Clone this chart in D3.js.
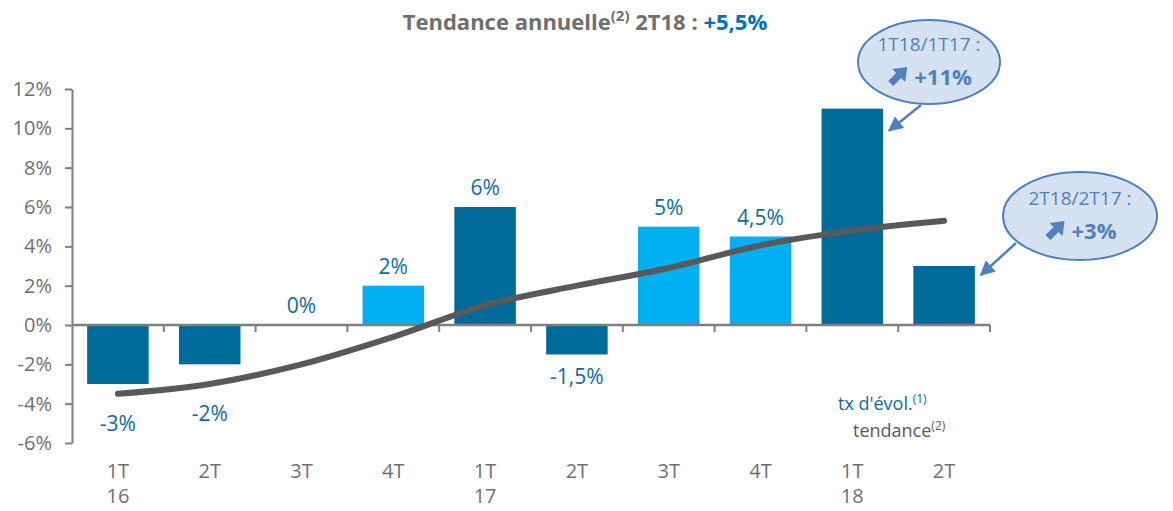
<!DOCTYPE html>
<html>
<head>
<meta charset="utf-8">
<script src="https://cdn.jsdelivr.net/npm/d3@7"></script>
<style>
  body { margin: 0; background: #fff; }
  text { font-family: "Open Sans", "Noto Sans", sans-serif; }
</style>
</head>
<body>
<div id="chart"></div>
<script>
// quarters (two-line labels) and values
var quarters = ["1T", "2T", "3T", "4T", "1T", "2T", "3T", "4T", "1T", "2T"];
var years    = ["16", "", "", "", "17", "", "", "", "18", ""];
var evolution = [-3, -2, 0, 2, 6, -1.5, 5, 4.5, 11, 3];      // tx d'évol. (bars)
var evoLabels = ["-3%", "-2%", "0%", "2%", "6%", "-1,5%", "5%", "4,5%", null, null];
var highlight = [false, false, false, true, false, false, true, true, false, false];
var tendance  = [-3.5, -3, -2, -0.6, 1, 2, 2.9, 4.05, 4.8, 5.3]; // tendance (line)
var yTicks = [-6, -4, -2, 0, 2, 4, 6, 8, 10, 12];

var W = 1173, H = 511;
var margin = {top: 89, right: 183, bottom: 68, left: 72};
var width = W - margin.left - margin.right,
    height = H - margin.top - margin.bottom;

var svg = d3.select("#chart").append("svg")
    .attr("width", W).attr("height", H);

var g = svg.append("g")
    .attr("transform", "translate(" + margin.left + "," + margin.top + ")");

var idx = d3.range(quarters.length);

var x = d3.scaleBand().domain(idx).range([0, width]).paddingInner(0.33).paddingOuter(0.165);
var y = d3.scaleLinear().domain([-6, 12]).range([height, 0]);

var dark = "#006a9b", light = "#00b0f0", grey = "#7f7f7f", labelBlue = "#0b6ca0";

// title
svg.append("text")
    .attr("x", 585).attr("y", 30)
    .attr("text-anchor", "middle")
    .style("font-size", "22px").style("font-weight", "bold").style("fill", "#6f6f6f")
    .call(function(t) {
      t.append("tspan").text("Tendance annuelle");
      t.append("tspan").attr("dy", -9).style("font-size", "15px").text("(2)");
      t.append("tspan").attr("dy", 9).text(" 2T18 : ");
      t.append("tspan").style("fill", "#0070c0").text("+5,5%");
    });

// bars
g.selectAll(".bar").data(idx).enter().append("rect")
    .attr("x", function(i) { return x(i); })
    .attr("width", x.bandwidth())
    .attr("y", function(i) { return y(Math.max(0, evolution[i])); })
    .attr("height", function(i) { return Math.abs(y(evolution[i]) - y(0)); })
    .attr("fill", function(i) { return highlight[i] ? light : dark; });

// y axis
var yAxis = g.append("g")
    .call(d3.axisLeft(y).tickValues(yTicks).tickSize(7).tickSizeOuter(0)
      .tickFormat(function(d) { return d + "%"; }));
yAxis.select(".domain").attr("stroke", grey).attr("stroke-width", 2);
yAxis.selectAll(".tick line").attr("stroke", grey).attr("stroke-width", 2);
yAxis.selectAll(".tick text")
    .attr("x", -20)
    .style("font-size", "20px").style("fill", "#6f6f6f")
    .style("font-family", "'Open Sans', sans-serif");

// zero axis with category boundary ticks
var xAxis = g.append("g").attr("transform", "translate(0," + y(0) + ")");
xAxis.append("line").attr("x1", 0).attr("x2", width)
    .attr("stroke", grey).attr("stroke-width", 2.5);
var step = x.step();
xAxis.selectAll(".xt").data(d3.range(1, quarters.length + 1)).enter().append("line")
    .attr("x1", function(k) { return x(0) - step * 0.165 + k * step; })
    .attr("x2", function(k) { return x(0) - step * 0.165 + k * step; })
    .attr("y1", 0).attr("y2", 7)
    .attr("stroke", grey).attr("stroke-width", 2);

// category labels at bottom
var cat = g.append("g");
cat.selectAll(".q").data(idx).enter().append("text")
    .attr("x", function(i) { return x(i) + x.bandwidth() / 2; })
    .attr("y", height + 35)
    .attr("text-anchor", "middle")
    .style("font-size", "20px").style("fill", "#6f6f6f")
    .text(function(i) { return quarters[i]; });
cat.selectAll(".yr").data(idx).enter().append("text")
    .attr("x", function(i) { return x(i) + x.bandwidth() / 2; })
    .attr("y", height + 60)
    .attr("text-anchor", "middle")
    .style("font-size", "20px").style("fill", "#6f6f6f")
    .text(function(i) { return years[i]; });

// trend line
var line = d3.line()
    .x(function(i) { return x(i) + x.bandwidth() / 2; })
    .y(function(i) { return y(tendance[i]); })
    .curve(d3.curveMonotoneX);
g.append("path").datum(idx)
    .attr("d", line)
    .attr("fill", "none").attr("stroke", "#595959")
    .attr("stroke-width", 6).attr("stroke-linecap", "round");

// bar value labels
g.selectAll(".lbl").data(idx.filter(function(i) { return evoLabels[i] !== null; }))
  .enter().append("text")
    .attr("x", function(i) { return x(i) + x.bandwidth() / 2; })
    .attr("y", function(i) {
      if (evolution[i] >= 0) return y(evolution[i]) - 12;
      var bottom = Math.max(y(evolution[i]), y(tendance[i]) + 8);
      return bottom + 29;
    })
    .attr("text-anchor", "middle")
    .style("font-size", "21px").style("fill", labelBlue)
    .text(function(i) { return evoLabels[i]; });

// legend
var leg = svg.append("g");
leg.append("text").attr("x", 838).attr("y", 410)
    .style("font-size", "18px").style("fill", labelBlue)
    .call(function(t) {
      t.append("tspan").text("tx d'évol.");
      t.append("tspan").attr("dy", -7).style("font-size", "12px").text("(1)");
    });
leg.append("text").attr("x", 853).attr("y", 437)
    .style("font-size", "18px").style("fill", "#595959")
    .call(function(t) {
      t.append("tspan").text("tendance");
      t.append("tspan").attr("dy", -7).style("font-size", "12px").text("(2)");
    });

// callouts
var defs = svg.append("defs");
defs.append("marker").attr("id", "arr")
    .attr("viewBox", "0 0 10 10").attr("refX", 9).attr("refY", 5)
    .attr("markerWidth", 6).attr("markerHeight", 6).attr("orient", "auto")
  .append("path").attr("d", "M0,0 L10,5 L0,10 z").attr("fill", "#4f81bd");

var callouts = [
  {cx: 929, cy: 62, rx: 71, ry: 42, l1: "1T18/1T17 :", l2: "+11%", bar: 8, from: [921, 105]},
  {cx: 1080, cy: 216, rx: 77, ry: 44, l1: "2T18/2T17 :", l2: "+3%", bar: 9, from: [1016, 243]}
];

callouts.forEach(function(c) {
  var tx = margin.left + x(c.bar) + x.bandwidth() + 6;
  var ty = margin.top + y(evolution[c.bar]) + (c.bar === 8 ? 22 : 9);
  svg.append("line")
      .attr("x1", c.from[0]).attr("y1", c.from[1])
      .attr("x2", tx).attr("y2", ty)
      .attr("stroke", "#4f81bd").attr("stroke-width", 2.5)
      .attr("marker-end", "url(#arr)");
  svg.append("ellipse")
      .attr("cx", c.cx).attr("cy", c.cy).attr("rx", c.rx).attr("ry", c.ry)
      .attr("fill", "#d6e2f1").attr("stroke", "#4f81bd").attr("stroke-width", 2);
  svg.append("text")
      .attr("x", c.cx).attr("y", c.cy - 11)
      .attr("text-anchor", "middle")
      .style("font-size", "19px").style("fill", "#4f81bd")
      .text(c.l1);
  var t2 = svg.append("text")
      .attr("x", c.cx + 14).attr("y", c.cy + 23)
      .attr("text-anchor", "middle")
      .style("font-size", "22px").style("font-weight", "bold").style("fill", "#4f81bd")
      .text(c.l2);
  var bb = t2.node().getBBox();
  // bold up-right arrow icon
  var ax = bb.x - 28, ay = c.cy + 4;
  svg.append("path")
      .attr("transform", "translate(" + ax + "," + ay + ")")
      .attr("d", "M2,15 L10,7 L6,3 L21,1 L19,16 L15,12 L7,20 Z")
      .attr("fill", "#4f81bd");
});
</script>
</body>
</html>
